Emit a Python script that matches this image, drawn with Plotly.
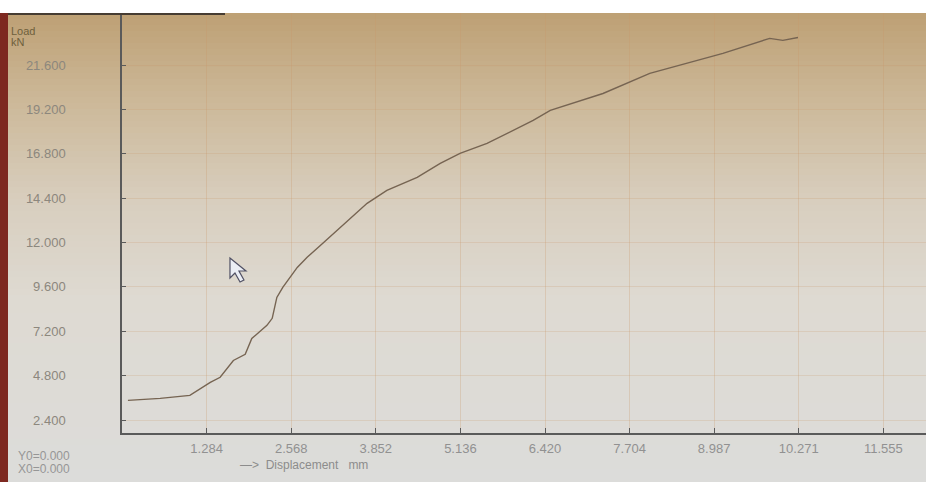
import plotly.graph_objects as go

# Load–displacement record of the tensile test
displacement_mm = [0.09, 0.58, 1.03, 1.34, 1.49, 1.69, 1.87, 1.97, 2.20, 2.28, 2.35,
                   2.44, 2.66, 2.81, 3.01, 3.31, 3.72, 4.02, 4.48, 4.83, 5.13, 5.54,
                   5.84, 6.24, 6.50, 7.30, 8.01, 8.62, 9.12, 9.83, 10.03, 10.26]
load_kn = [3.46, 3.57, 3.73, 4.43, 4.71, 5.62, 5.95, 6.81, 7.52, 7.90, 9.03,
           9.57, 10.65, 11.20, 11.84, 12.82, 14.12, 14.82, 15.52, 16.28, 16.82, 17.36,
           17.90, 18.60, 19.15, 20.06, 21.15, 21.74, 22.23, 23.04, 22.93, 23.09]

x_ticks = [1.284, 2.568, 3.852, 5.136, 6.420, 7.704, 8.987, 10.271, 11.555]
x_tick_text = ["1.284", "2.568", "3.852", "5.136", "6.420", "7.704", "8.987", "10.271", "11.555"]
y_ticks = [2.4, 4.8, 7.2, 9.6, 12.0, 14.4, 16.8, 19.2, 21.6]
y_tick_text = ["2.400", "4.800", "7.200", "9.600", "12.000", "14.400", "16.800", "19.200", "21.600"]

W, H = 926, 482
L, R, T, B = 122, 0, 13, 49
PW, PH = W - L - R, H - T - B


def px(xp):
    return (xp - L) / PW


def py(yp):
    return 1 - (yp - T) / PH


def mix(c1, c2, t):
    return "rgb(%d,%d,%d)" % tuple(round(a + (b - a) * t) for a, b in zip(c1, c2))


shapes = []
# screen background: warm tan at the top fading into pale grey
stops = [(13, (190, 160, 116)), (100, (204, 184, 152)), (200, (216, 206, 190)),
         (300, (222, 218, 210)), (482, (220, 220, 218))]
band = 6
for y0 in range(13, 482, band):
    y1 = min(482, y0 + band)
    ym = (y0 + y1) / 2
    for (a, ca), (b, cb) in zip(stops[:-1], stops[1:]):
        if a <= ym <= b:
            col = mix(ca, cb, (ym - a) / (b - a))
            break
    shapes.append(dict(type="rect", xref="paper", yref="paper", layer="below",
                       x0=px(0), x1=px(W), y0=py(y1), y1=py(y0),
                       fillcolor=col, line=dict(width=0)))
# white strip above the screen
shapes.append(dict(type="rect", xref="paper", yref="paper", layer="below",
                   x0=px(0), x1=px(W), y0=py(13), y1=py(0),
                   fillcolor="white", line=dict(width=0)))
# dark bezel edge at the top left
shapes.append(dict(type="rect", xref="paper", yref="paper", layer="above",
                   x0=px(8), x1=px(225), y0=py(15), y1=py(13),
                   fillcolor="rgb(70,60,50)", line=dict(width=0)))
# red frame on the left edge
shapes.append(dict(type="rect", xref="paper", yref="paper", layer="above",
                   x0=px(0), x1=px(8), y0=py(482), y1=py(13),
                   fillcolor="rgb(125,40,32)", line=dict(width=0)))
# mouse pointer
pts = [(230, 258), (230, 278), (235, 273), (240, 282), (244, 280), (239, 271), (246, 271)]
path = "M " + " L ".join("%.4f,%.4f" % (px(a), py(b)) for a, b in pts) + " Z"
shapes.append(dict(type="path", xref="paper", yref="paper", layer="above", path=path,
                   fillcolor="rgb(235,238,245)", line=dict(color="rgb(80,80,100)", width=1.2)))

annotations = [
    dict(text="Load", x=px(9), y=py(31), xanchor="left", yanchor="middle",
         font=dict(size=11, color="rgb(110,95,60)")),
    dict(text="kN", x=px(9), y=py(42), xanchor="left", yanchor="middle",
         font=dict(size=11, color="rgb(110,95,60)")),
    dict(text="Y0=0.000", x=px(16), y=py(456), xanchor="left", yanchor="middle",
         font=dict(size=12, color="rgb(150,150,150)")),
    dict(text="X0=0.000", x=px(16), y=py(469), xanchor="left", yanchor="middle",
         font=dict(size=12, color="rgb(150,150,150)")),
    dict(text="—>  Displacement   mm", x=px(238), y=py(465), xanchor="left", yanchor="middle",
         font=dict(size=12, color="rgb(140,140,140)")),
]
for a in annotations:
    a.update(xref="paper", yref="paper", showarrow=False,
             font=dict(family="Liberation Sans, Arial, sans-serif", **a["font"]))

fig = go.Figure(go.Scatter(
    x=displacement_mm, y=load_kn, mode="lines",
    line=dict(color="rgb(118,100,82)", width=1.4, shape="linear"),
    hoverinfo="skip",
))

fig.update_layout(
    width=W, height=H,
    margin=dict(l=L, r=R, t=T, b=B, pad=0),
    paper_bgcolor="rgb(220,220,218)",
    plot_bgcolor="rgba(0,0,0,0)",
    showlegend=False,
    shapes=shapes,
    annotations=annotations,
    font=dict(family="Liberation Sans, Arial, sans-serif", size=13, color="rgb(140,140,140)"),
)
fig.update_xaxes(
    range=[0, (W - L) * 1.284 / 84.6], tickvals=x_ticks, ticktext=x_tick_text,
    showgrid=True, gridcolor="rgba(200,150,105,0.28)", gridwidth=1.2,
    zeroline=False, showline=True, linecolor="rgb(90,90,90)", linewidth=1.5,
    ticks="inside", ticklen=5, tickcolor="rgb(90,90,90)",
    tickfont=dict(size=13, color="rgb(145,145,145)"), ticklabelstandoff=3,
)
fig.update_yaxes(
    range=[2.4 - 13 / 18.49, 21.6 + 52 / 18.49], tickvals=y_ticks, ticktext=y_tick_text,
    showgrid=True, gridcolor="rgba(200,150,105,0.22)", gridwidth=1,
    zeroline=False, showline=True, linecolor="rgb(90,90,90)", linewidth=1.5,
    ticks="inside", ticklen=4, tickcolor="rgb(90,90,90)",
    tickfont=dict(size=13, color="rgb(140,135,125)"), ticklabelstandoff=52,
)

fig.write_html("out.html")
